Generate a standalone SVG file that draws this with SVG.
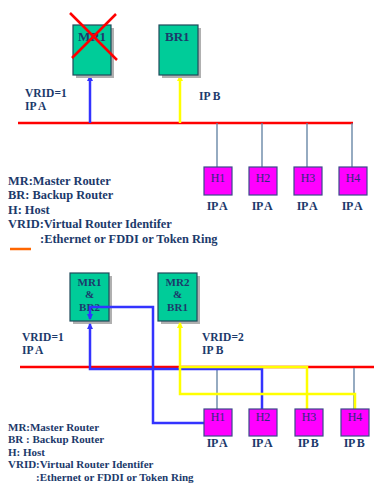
<svg xmlns="http://www.w3.org/2000/svg" width="374" height="489" viewBox="0 0 374 489">
<style>
.t{font-family:"Liberation Serif","Times New Roman",serif;font-weight:bold;fill:#1C3A6B}
.h{font-family:"Liberation Serif","Times New Roman",serif;fill:#2A2A7A;font-size:12px}
.box{fill:#00CC99;stroke:#1F4A5A;stroke-width:1.2}
.sh{fill:#B0B0B0}
.host{fill:#FF00FF;stroke:#3A4A8A;stroke-width:1.2}
.hl{stroke:#5E7FA0;stroke-width:1.3;fill:none}
.blue{stroke:#3333FF;stroke-width:2.5;fill:none}
.yel{stroke:#FFFF00;stroke-width:2.5;fill:none}
.red{stroke:#FF0000;stroke-width:2.5}
</style>
<defs>
<marker id="ab" markerWidth="6" markerHeight="6" refX="5" refY="3" orient="auto" markerUnits="userSpaceOnUse"><path d="M0,0 L6,3 L0,6 z" fill="#3333FF"/></marker>
<marker id="ay" markerWidth="6" markerHeight="6" refX="5" refY="3" orient="auto" markerUnits="userSpaceOnUse"><path d="M0,0 L6,3 L0,6 z" fill="#FFFF00"/></marker>
</defs>
<rect width="374" height="489" fill="#FFFFFF"/>

<!-- ===== Top diagram ===== -->
<g id="top-lan"><line x1="18" y1="123" x2="353" y2="123" class="red"/></g>
<g id="top-connectors">
<path class="hl" d="M217,123 V167 M262,123 V167 M307,123 V167 M352,123 V167"/>
<line x1="90" y1="123" x2="90" y2="76" class="blue" marker-end="url(#ab)"/>
<line x1="180" y1="123" x2="180" y2="76" class="yel" marker-end="url(#ay)"/>
</g>
<g id="top-MR1">
<rect x="76" y="28" width="38" height="50" class="sh"/>
<rect x="73" y="25" width="38" height="50" class="box"/>
<text x="92" y="41" class="t" font-size="13" text-anchor="middle">MR1</text>
<path d="M70,13 L117,60 M116,14 L72,58" stroke="#FF0000" stroke-width="2.5"/>
</g>
<g id="top-BR1">
<rect x="162" y="28" width="39" height="50" class="sh"/>
<rect x="159" y="25" width="39" height="50" class="box"/>
<text x="165" y="41" class="t" font-size="13">BR1</text>
</g>
<g id="top-labels">
<text x="25" y="97" class="t" font-size="11.5">VRID=1</text>
<text x="25" y="110" class="t" font-size="11.5">IP A</text>
<text x="199" y="100" class="t" font-size="11.5">IP B</text>
</g>
<g id="top-H1"><rect x="204" y="167" width="28" height="28" class="host"/><text x="218" y="182" class="h" text-anchor="middle">H1</text><text x="217" y="210" class="t" font-size="12" text-anchor="middle" letter-spacing="-0.5">IP A</text></g>
<g id="top-H2"><rect x="249" y="167" width="28" height="28" class="host"/><text x="263" y="182" class="h" text-anchor="middle">H2</text><text x="262" y="210" class="t" font-size="12" text-anchor="middle" letter-spacing="-0.5">IP A</text></g>
<g id="top-H3"><rect x="294" y="167" width="28" height="28" class="host"/><text x="308" y="182" class="h" text-anchor="middle">H3</text><text x="307" y="210" class="t" font-size="12" text-anchor="middle" letter-spacing="-0.5">IP A</text></g>
<g id="top-H4"><rect x="339" y="167" width="28" height="28" class="host"/><text x="353" y="182" class="h" text-anchor="middle">H4</text><text x="352" y="210" class="t" font-size="12" text-anchor="middle" letter-spacing="-0.5">IP A</text></g>
<g id="top-legend">
<text x="8" y="185" class="t" font-size="12.4">MR:Master Router</text>
<text x="8" y="199" class="t" font-size="12.4">BR: Backup Router</text>
<text x="8" y="214" class="t" font-size="12.4">H: Host</text>
<text x="8" y="228" class="t" font-size="12.4">VRID:Virtual Router Identifer</text>
<text x="40" y="243" class="t" font-size="12.4">:Ethernet or FDDI or Token Ring</text>
<line x1="10" y1="249" x2="31" y2="249" stroke="#FF6600" stroke-width="2.5"/>
</g>

<!-- ===== Bottom diagram ===== -->
<g id="bottom-lan"><line x1="20" y1="367" x2="374" y2="367" class="red"/></g>
<g id="bottom-MR1-BR2">
<rect x="73" y="276" width="39" height="48" class="sh"/>
<rect x="70" y="273" width="39" height="48" class="box"/>
<text x="89.5" y="286" class="t" font-size="11" text-anchor="middle">MR1</text>
<text x="89.5" y="298" class="t" font-size="11" text-anchor="middle">&amp;</text>
<text x="89.5" y="311" class="t" font-size="11" text-anchor="middle">BR2</text>
</g>
<g id="bottom-MR2-BR1">
<rect x="161" y="276" width="39" height="48" class="sh"/>
<rect x="158" y="273" width="39" height="48" class="box"/>
<text x="177.5" y="286" class="t" font-size="11" text-anchor="middle">MR2</text>
<text x="177.5" y="298" class="t" font-size="11" text-anchor="middle">&amp;</text>
<text x="177.5" y="311" class="t" font-size="11" text-anchor="middle">BR1</text>
</g>
<g id="bottom-connectors">
<path class="hl" d="M217,368 V409 M262,368 V409 M307,368 V409 M354,368 V409"/>
<path class="blue" d="M262,409 V369 H90 V324" marker-end="url(#ab)"/>
<path class="blue" d="M217,409 V423 H153 V307 H90 V319" marker-end="url(#ab)"/>
<path class="yel" d="M307,409 V367 H180 V323" marker-end="url(#ay)"/>
<path class="yel" d="M355,409 V394 H180 V367"/>
</g>
<g id="bottom-labels">
<text x="22" y="341" class="t" font-size="11.5">VRID=1</text>
<text x="22" y="354" class="t" font-size="11.5">IP A</text>
<text x="202" y="341" class="t" font-size="11.5">VRID=2</text>
<text x="202" y="354" class="t" font-size="11.5">IP B</text>
</g>
<g id="bottom-H1"><rect x="204" y="409" width="28" height="27" class="host"/><text x="218" y="421" class="h" text-anchor="middle">H1</text><text x="217" y="447" class="t" font-size="12" text-anchor="middle" letter-spacing="-0.5">IP A</text></g>
<g id="bottom-H2"><rect x="249" y="409" width="28" height="27" class="host"/><text x="263" y="421" class="h" text-anchor="middle">H2</text><text x="262" y="447" class="t" font-size="12" text-anchor="middle" letter-spacing="-0.5">IP A</text></g>
<g id="bottom-H3"><rect x="295" y="409" width="28" height="27" class="host"/><text x="309" y="421" class="h" text-anchor="middle">H3</text><text x="308" y="447" class="t" font-size="12" text-anchor="middle" letter-spacing="-0.5">IP B</text></g>
<g id="bottom-H4"><rect x="341" y="409" width="28" height="27" class="host"/><text x="355" y="421" class="h" text-anchor="middle">H4</text><text x="354" y="447" class="t" font-size="12" text-anchor="middle" letter-spacing="-0.5">IP B</text></g>
<g id="bottom-legend">
<text x="8" y="431" class="t" font-size="11">MR:Master Router</text>
<text x="8" y="443" class="t" font-size="11">BR : Backup Router</text>
<text x="8" y="456" class="t" font-size="11">H: Host</text>
<text x="8" y="468" class="t" font-size="11">VRID:Virtual Router Identifer</text>
<text x="36" y="481" class="t" font-size="11">:Ethernet or FDDI or Token Ring</text>
</g>
</svg>
